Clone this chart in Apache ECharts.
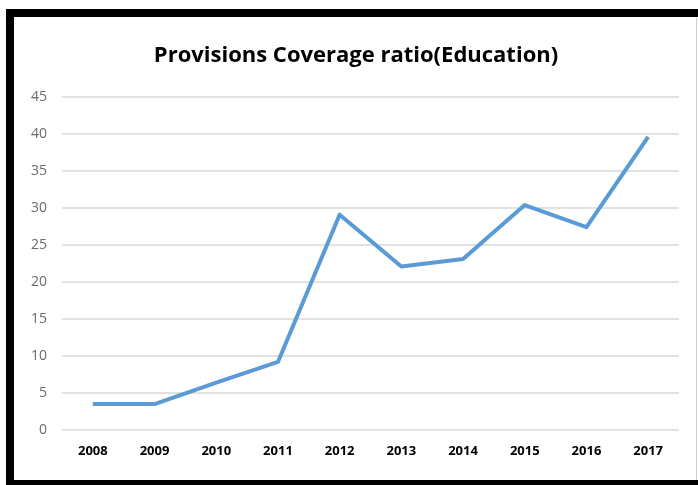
<!DOCTYPE html>
<html>
<head>
<meta charset="utf-8">
<script src="https://cdn.jsdelivr.net/npm/echarts@6/dist/echarts.min.js"></script>
<style>
html,body{margin:0;padding:0;background:#fff;}
#chart{width:698px;height:485px;}
</style>
</head>
<body>
<div id="chart"></div>
<script>
const titleText = 'Provisions Coverage ratio(Education)';
const categories = ['2008','2009','2010','2011','2012','2013','2014','2015','2016','2017'];
const values = [3.5, 3.5, 6.4, 9.2, 29.1, 22.1, 23.1, 30.4, 27.4, 39.6];
const yTicks = [0, 5, 10, 15, 20, 25, 30, 35, 40, 45];

const chart = echarts.init(document.getElementById('chart'), null, {renderer: 'canvas'});
chart.setOption({
  animation: false,
  backgroundColor: '#fff',
  title: {
    text: titleText,
    left: 351, top: 40, textAlign: 'center',
    textStyle: {fontFamily: 'Open Sans', fontWeight: 'bold', fontSize: 22, color: '#000', letterSpacing: -0.8}
  },
  graphic: [
    {type: 'rect', shape: {x: 10, y: 13, width: 700, height: 471}, style: {fill: 'none', stroke: '#000', lineWidth: 8}, z: 100},
    {type: 'line', shape: {x1: 696.5, y1: 17, x2: 696.5, y2: 480}, style: {stroke: '#cfcfcf', lineWidth: 1}, z: 100}
  ],
  grid: {left: 62, right: 19, top: 97, bottom: 55},
  xAxis: {
    type: 'category', data: categories, boundaryGap: true,
    axisLine: {show: false}, axisTick: {show: false},
    axisLabel: {margin: 15, fontFamily: 'Open Sans', fontWeight: 'bold', fontSize: 13, color: '#000', letterSpacing: -0.4}
  },
  yAxis: {
    type: 'value', min: yTicks[0], max: yTicks[yTicks.length - 1], interval: 5,
    axisLine: {show: false}, axisTick: {show: false},
    axisLabel: {margin: 15, fontFamily: 'Open Sans', fontSize: 14, color: '#6b6b6b'},
    splitLine: {lineStyle: {color: '#d9d9d9', width: 1.5}}
  },
  series: [{
    type: 'line', data: values, symbol: 'none',
    lineStyle: {color: '#5b9bd5', width: 4, join: 'round'}
  }]
});
</script>
</body>
</html>
